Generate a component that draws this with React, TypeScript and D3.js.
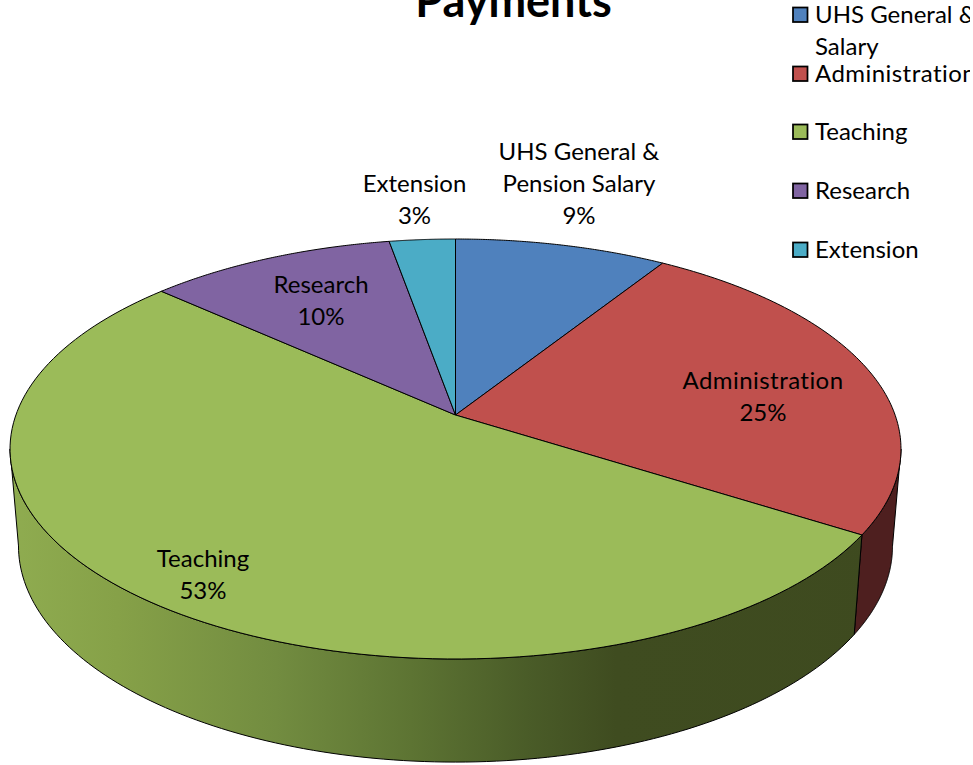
import React from "react";
import * as d3 from "d3";

const categories = ["UHS General & Pension Salary", "Administration", "Teaching", "Research", "Extension"];
const shares = [9, 25, 52.7, 10.5, 2.8];
const colors = ["#4f81bd", "#c0504d", "#9bbb59", "#8064a2", "#4bacc6"];
const legendLines = [["UHS General &", "Salary"], ["Administration"], ["Teaching"], ["Research"], ["Extension"]];
const labelLines = [["UHS General &", "Pension Salary", "9%"], ["Administration", "25%"], ["Teaching", "53%"], ["Research", "10%"], ["Extension", "3%"]];

const FONT = "Lato, 'Open Sans', sans-serif";
const W = 973, H = 765;

// Perspective projection of the pie's unit disc on to the page
const CX = 455.5, APEX_Y = 415, PERSP = -0.1619, YA = 137.3, UX = 439.6;
const top = (t: number): [number, number] => {
  const u = Math.sin(t), v = -Math.cos(t), w = 1 + PERSP * v;
  return [CX + (UX * u) / w, (YA * v + APEX_Y) / w];
};
const ELLIPSE_Y = 449, WALL_Y = 546, WALL_SY = 1.029, WALL_SX = 0.981;
const bottom = (t: number): [number, number] => {
  const [x, y] = top(t);
  return [CX + (x - CX) * WALL_SX, WALL_Y + (y - ELLIPSE_Y) * WALL_SY];
};
const sample = (a: number, b: number, n = 120) => d3.range(n + 1).map((i) => a + ((b - a) * i) / n);
const line = d3.line<[number, number]>();

const arcs = d3.pie<number>().sort(null).value((d) => d)(shares);
const rad = Math.PI / 180;
const VIS_A = 99.3 * rad, VIS_B = 260.7 * rad; // wall is visible between the disc's side extremes

const labelPos: [number, number][] = [[579, 160], [763, 388.5], [203, 566.5], [321, 292.5], [414.5, 192]];
const legendY = [23, 82, 140, 199, 258];
const tracking = (t: string) => (t === "Administration" ? 0.45 : 0.01);

export default function App() {
  const walls = arcs
    .map((a, i) => ({ i, s: Math.max(a.startAngle, VIS_A), e: Math.min(a.endAngle, VIS_B) }))
    .filter((w) => w.e > w.s);
  return (
    <svg width={W} height={H} viewBox={`0 0 ${W} ${H}`} style={{ position: "absolute", left: 0, top: 0, background: "#fff" }}>
      <defs>
        <linearGradient id="wall2" gradientUnits="userSpaceOnUse" x1={10} x2={901} y1={0} y2={0}>
          <stop offset="0" stopColor="#8fac50" />
          <stop offset="0.12" stopColor="#86a148" />
          <stop offset="0.3" stopColor="#728c40" />
          <stop offset="0.45" stopColor="#5d7433" />
          <stop offset="0.58" stopColor="#4a5c28" />
          <stop offset="0.68" stopColor="#3f4c20" />
          <stop offset="1" stopColor="#3e4a1f" />
        </linearGradient>
        <clipPath id="page"><rect x={0} y={0} width={970} height={H} /></clipPath>
      </defs>
      {walls.map((w) => (
        <path
          key={w.i}
          d={line([...sample(w.s, w.e).map(top), ...sample(w.e, w.s).map(bottom)]) + "Z"}
          fill={w.i === 2 ? "url(#wall2)" : "#4e1f1f"}
          stroke="#000"
          strokeWidth={1}
          strokeLinejoin="round"
        />
      ))}
      {arcs.map((a, i) => (
        <path
          key={i}
          d={line([[CX, APEX_Y], ...sample(a.startAngle, a.endAngle).map(top)]) + "Z"}
          fill={colors[i]}
          stroke="#000"
          strokeWidth={1}
          strokeLinejoin="round"
        />
      ))}
      <g fontFamily={FONT} fontSize={24} fill="#000" textAnchor="middle">
        {labelLines.map((lines, i) => (
          <text key={categories[i]} x={labelPos[i][0]} y={labelPos[i][1]}>
            {lines.map((t, j) => (
              <tspan key={j} x={labelPos[i][0]} y={labelPos[i][1] + j * 32} letterSpacing={tracking(t)}>{t}</tspan>
            ))}
          </text>
        ))}
      </g>
      <text x={513.5} y={17} textAnchor="middle" fontFamily={FONT} fontWeight={700} fontSize={45} fill="#000">Payments</text>
      <g clipPath="url(#page)" fontFamily={FONT} fontSize={24} fill="#000">
        {legendLines.map((lines, i) => (
          <g key={i}>
            <rect x={793} y={legendY[i] - 15.5} width={14.5} height={14.5} fill={colors[i]} stroke="#000" strokeWidth={1.75} />
            {lines.map((t, j) => (
              <text key={j} x={815} y={legendY[i] + j * 32} letterSpacing={tracking(t)}>{t}</text>
            ))}
          </g>
        ))}
      </g>
    </svg>
  );
}
